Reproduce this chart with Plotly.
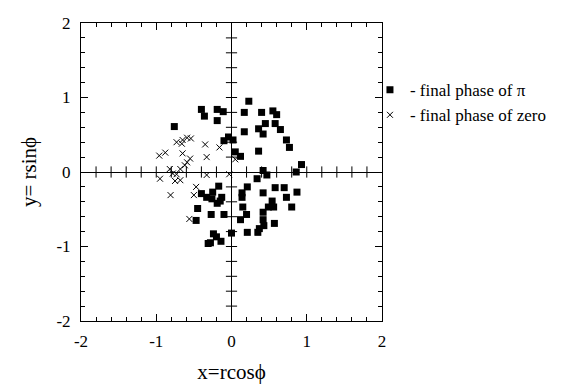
import plotly.graph_objects as go

# final phase of pi (filled squares)
pi_x = [0.23, -0.40, -0.36, -0.19, -0.11, 0.17, 0.40, 0.55, 0.60, -0.19,
        0.45, 0.36, 0.42, 0.58, 0.65, -0.76, 0.17, -0.04, -0.10, 0.02,
        0.73, 0.77, 0.05, 0.12, 0.36, 0.93, 0.86, 0.42, 0.47, 0.34,
        -0.17, -0.40, -0.33, -0.25, -0.13, -0.26, -0.19, -0.15, 0.21, 0.14,
        0.14, 0.42, 0.58, 0.70, 0.87, 0.73, 0.54, 0.49, 0.56, 0.80,
        -0.45, 0.15, 0.20, -0.27, -0.10, 0.42, -0.47, 0.12, 0.42, 0.43,
        0.57, 0.37, 0.35, 0.21, 0.00, -0.24, -0.20, -0.14, -0.28, -0.31]
pi_y = [0.95, 0.84, 0.75, 0.84, 0.81, 0.80, 0.80, 0.82, 0.77, 0.69,
        0.65, 0.58, 0.51, 0.65, 0.57, 0.61, 0.54, 0.47, 0.42, 0.43,
        0.43, 0.33, 0.27, 0.21, 0.28, 0.10, 0.00, 0.02, -0.04, -0.09,
        -0.19, -0.29, -0.34, -0.27, -0.34, -0.36, -0.42, -0.39, -0.20, -0.28,
        -0.34, -0.28, -0.21, -0.21, -0.27, -0.34, -0.39, -0.47, -0.47, -0.47,
        -0.49, -0.47, -0.57, -0.57, -0.57, -0.54, -0.65, -0.64, -0.64, -0.72,
        -0.69, -0.76, -0.81, -0.81, -0.82, -0.83, -0.87, -0.93, -0.95, -0.96]

# final phase of zero (crosses)
zero_x = [-0.73, -0.65, -0.59, -0.54, -0.66, -0.35, -0.16, -0.96, -0.88, -0.65,
          -0.55, -0.59, -0.33, 0.05, -0.82, -0.68, -0.62, -0.78, -0.73, -0.95,
          -0.75, -0.68, -0.33, -0.03, -0.47, -0.50, -0.81, -0.56]
zero_y = [0.40, 0.43, 0.46, 0.45, 0.38, 0.37, 0.33, 0.22, 0.26, 0.25,
          0.18, 0.13, 0.20, 0.17, 0.04, 0.04, 0.09, -0.02, -0.03, -0.09,
          -0.12, -0.11, -0.04, -0.03, -0.20, -0.31, -0.31, -0.63]

tick_vals = [-2, -1, 0, 1, 2]
tick_text = ["-2", "-1", "0", "1", "2"]

SERIF = "Liberation Serif, Times New Roman, serif"
INK = "#000000"

fig = go.Figure()

# crossing ticks on the zero lines
minor = [round(-1.8 + 0.2 * i, 1) for i in range(19) if abs(-1.8 + 0.2 * i) > 1e-9]
fig.add_trace(go.Scatter(x=minor, y=[0] * len(minor), mode="markers",
                         marker=dict(symbol="line-ns-open", size=8, color=INK,
                                     line=dict(width=1, color=INK)),
                         showlegend=False, hoverinfo="skip"))
fig.add_trace(go.Scatter(x=[0] * len(minor), y=minor, mode="markers",
                         marker=dict(symbol="line-ew-open", size=8, color=INK,
                                     line=dict(width=1, color=INK)),
                         showlegend=False, hoverinfo="skip"))

fig.add_trace(go.Scatter(x=pi_x, y=pi_y, mode="markers", name="- final phase of π",
                         marker=dict(symbol="square", size=7, color=INK)))
fig.add_trace(go.Scatter(x=zero_x, y=zero_y, mode="markers", name="- final phase of zero",
                         marker=dict(symbol="x-thin-open", size=6, color=INK,
                                     line=dict(width=1, color=INK))))

axis_common = dict(range=[-2, 2], showgrid=False, zeroline=True, zerolinecolor=INK,
                   zerolinewidth=1, showline=True, linecolor=INK, linewidth=1,
                   mirror="ticks", ticks="inside", ticklen=7, tickcolor=INK,
                   tickvals=tick_vals, ticktext=tick_text, automargin=False,
                   tickfont=dict(family=SERIF, size=17, color=INK),
                   minor=dict(tick0=0, dtick=0.2, ticks="inside", ticklen=4,
                              tickcolor=INK, showgrid=False))

fig.update_xaxes(**axis_common,
                 title=dict(text="x=rcosϕ", font=dict(family=SERIF, size=21, color=INK),
                            standoff=27),
                 ticklabelstandoff=5)
fig.update_yaxes(**axis_common,
                 title=dict(text="y= rsinϕ", font=dict(family=SERIF, size=21, color=INK),
                            standoff=14),
                 ticklabelstandoff=6)

fig.update_layout(width=570, height=384,
                  margin=dict(l=81, r=188, t=23, b=63),
                  paper_bgcolor="white", plot_bgcolor="white",
                  showlegend=True,
                  legend=dict(x=0.96, y=0.835, xanchor="left", yanchor="top",
                              font=dict(family=SERIF, size=17, color=INK),
                              itemwidth=30, tracegroupgap=0,
                              bgcolor="rgba(0,0,0,0)"),
                  font=dict(family=SERIF, color=INK))

fig.write_html("out.html")
